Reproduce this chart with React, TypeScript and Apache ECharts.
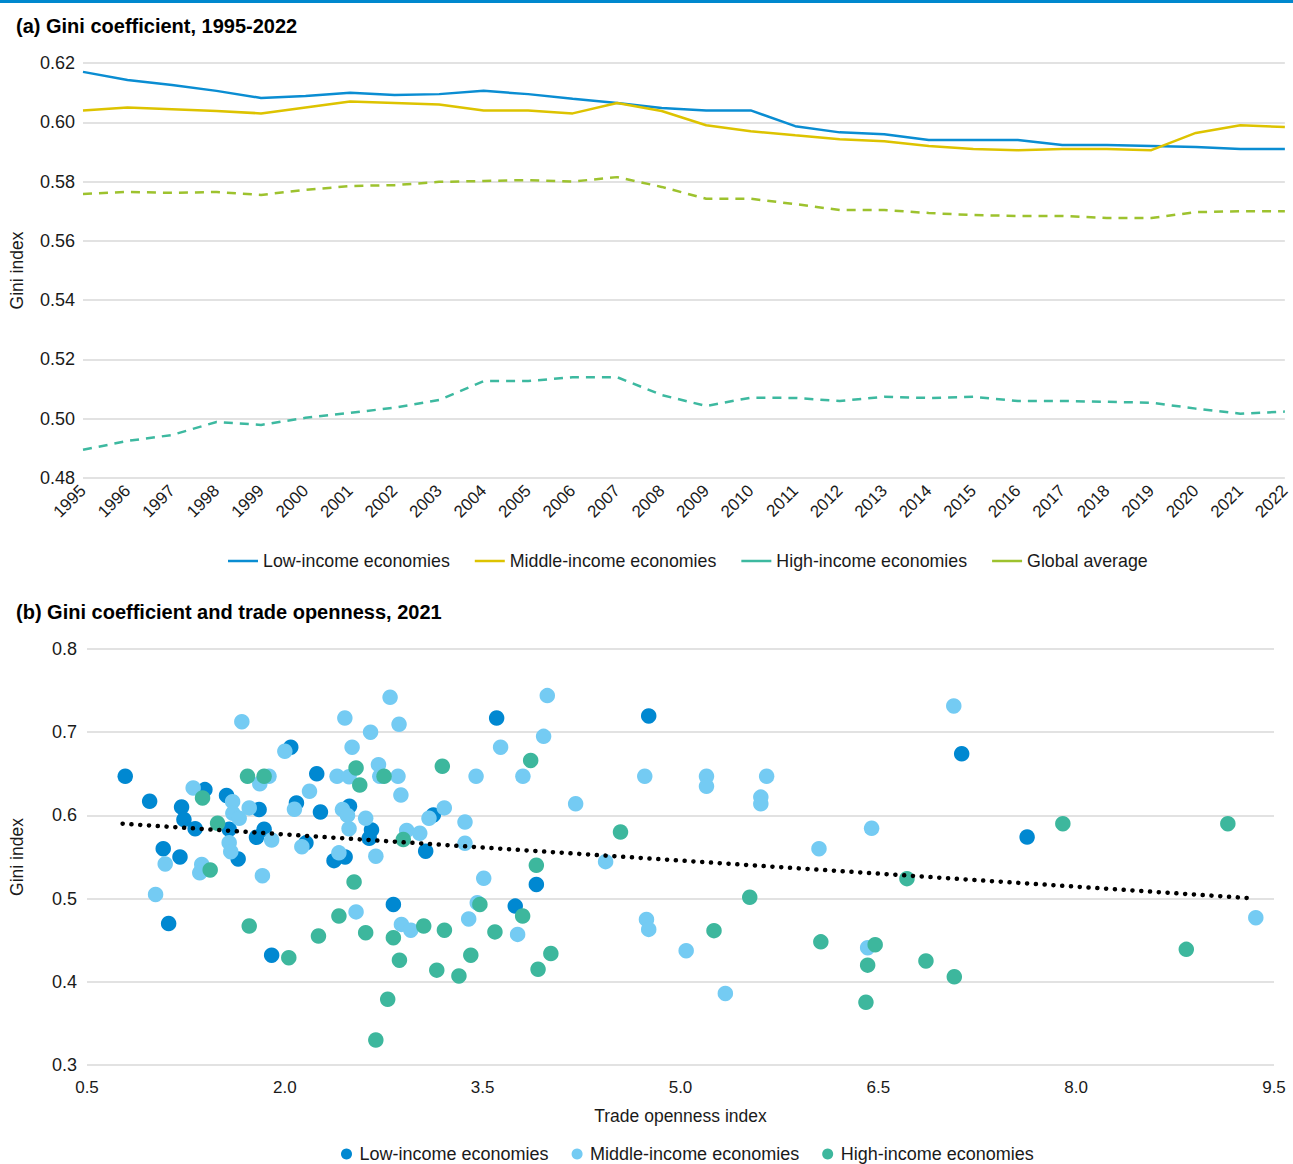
import React, { useEffect, useRef } from "react";
import * as echarts from "echarts";

const years = ["1995","1996","1997","1998","1999","2000","2001","2002","2003","2004","2005","2006","2007","2008","2009","2010","2011","2012","2013","2014","2015","2016","2017","2018","2019","2020","2021","2022"];
const lowIncome = [0.617,0.6143,0.6126,0.6106,0.6082,0.6089,0.61,0.6092,0.6095,0.6106,0.6095,0.6079,0.6065,0.6048,0.604,0.604,0.5987,0.5966,0.596,0.594,0.594,0.594,0.5923,0.5923,0.592,0.5917,0.591,0.591];
const middleIncome = [0.604,0.605,0.6044,0.6038,0.603,0.605,0.607,0.6065,0.606,0.604,0.604,0.603,0.6065,0.6038,0.599,0.597,0.5956,0.5943,0.5936,0.592,0.591,0.5906,0.591,0.591,0.5906,0.5964,0.599,0.5984];
const highIncome = [0.4895,0.4925,0.4945,0.4989,0.4979,0.5003,0.502,0.5037,0.5063,0.5127,0.5127,0.514,0.514,0.508,0.5043,0.5071,0.507,0.506,0.5074,0.507,0.5074,0.506,0.506,0.5057,0.5054,0.5034,0.5017,0.5024];
const globalAvg = [0.5758,0.5765,0.5762,0.5765,0.5755,0.5772,0.5785,0.5788,0.5799,0.5802,0.5805,0.58,0.5815,0.5782,0.5742,0.5742,0.5724,0.5704,0.5704,0.5694,0.5687,0.5684,0.5684,0.5677,0.5677,0.5697,0.57,0.57];

const lowX = [0.79,0.975,1.217,1.235,1.32,1.394,2.045,1.558,1.805,2.088,2.242,2.27,2.49,2.657,2.64,1.578,1.646,1.843,1.785,1.078,1.205,2.16,2.373,2.457,1.119,1.9,3.606,3.126,3.068,3.907,2.823,3.747,4.759,7.132,7.628];
const lowY = [0.647,0.617,0.61,0.595,0.584,0.631,0.682,0.624,0.607,0.615,0.65,0.604,0.611,0.5825,0.5725,0.5833,0.5476,0.5833,0.5737,0.56,0.55,0.567,0.5456,0.55,0.47,0.432,0.717,0.6005,0.557,0.517,0.493,0.491,0.7195,0.674,0.574];

const midX = [1.674,2.455,2.65,2.0,2.51,1.305,1.81,1.88,1.604,1.606,1.654,1.73,2.073,2.187,2.396,2.487,2.437,2.475,2.487,2.613,1.578,1.59,1.9,1.093,1.37,1.355,2.129,2.41,2.69,1.83,1.02,2.54,2.798,2.866,3.99,3.962,3.636,3.45,3.805,2.71,2.72,2.858,2.88,2.924,3.023,3.093,3.209,3.366,3.366,4.205,4.432,3.508,2.884,2.955,3.394,3.459,3.765,4.729,7.072,5.197,5.197,5.653,5.609,5.609,6.449,6.05,4.742,4.759,5.043,6.419,5.34,9.362];
const midY = [0.7126,0.717,0.70,0.677,0.682,0.633,0.638,0.647,0.6165,0.6025,0.5965,0.609,0.6073,0.629,0.647,0.6465,0.607,0.60,0.584,0.5965,0.5672,0.5564,0.5704,0.5416,0.541,0.531,0.5624,0.555,0.551,0.5275,0.505,0.484,0.742,0.7095,0.744,0.695,0.682,0.647,0.647,0.661,0.647,0.647,0.6245,0.582,0.5785,0.5965,0.609,0.592,0.5665,0.614,0.5444,0.5244,0.469,0.462,0.4755,0.495,0.457,0.647,0.7315,0.647,0.635,0.647,0.622,0.614,0.5845,0.56,0.475,0.463,0.4374,0.441,0.386,0.477];

const highX = [1.376,1.717,1.843,2.54,2.568,1.49,1.434,2.525,1.73,2.03,2.255,2.41,2.613,2.69,3.194,3.864,2.752,2.898,4.545,3.907,2.823,3.053,3.21,3.479,3.803,3.593,2.869,3.152,3.32,3.41,3.92,4.017,2.78,7.899,9.15,6.717,5.525,5.254,6.064,6.476,6.419,6.861,7.076,6.406,8.835];
const highY = [0.621,0.647,0.647,0.657,0.6365,0.5905,0.5344,0.52,0.467,0.429,0.455,0.479,0.459,0.33,0.659,0.666,0.647,0.571,0.58,0.54,0.453,0.467,0.462,0.493,0.479,0.46,0.426,0.414,0.407,0.432,0.415,0.434,0.379,0.59,0.59,0.524,0.5016,0.4615,0.448,0.4446,0.42,0.425,0.406,0.3754,0.439];

const trendX = [0.77, 9.3];
const trendY = [0.59, 0.5007];

const FONT = "'Liberation Sans', Arial, Helvetica, sans-serif";
const TXT = "#1a1a1a";
const GRID = "#d9d9d9";

const zip = (xs: number[], ys: number[]) => xs.map((x, i) => [x, ys[i]]);

export default function App() {
  const topRef = useRef<HTMLDivElement>(null);
  const botRef = useRef<HTMLDivElement>(null);

  useEffect(() => {
    const top = echarts.init(topRef.current!, null, { renderer: "svg" });
    const bot = echarts.init(botRef.current!, null, { renderer: "svg" });

    const lineSeries = (name: string, data: number[], color: string, dashed: boolean) => ({
      name,
      type: "line",
      data,
      symbol: "none",
      lineStyle: { color, width: 2.5, type: dashed ? [9, 7] : "solid" },
      itemStyle: { color },
    });

    top.setOption({
      animation: false,
      textStyle: { fontFamily: FONT },
      graphic: [
        { type: "rect", left: 0, top: 0, shape: { width: 1293, height: 3 }, style: { fill: "#0088CE" } },
      ],
      title: {
        text: "(a) Gini coefficient, 1995-2022",
        left: 16,
        top: 16,
        padding: 0,
        textStyle: { fontFamily: FONT, fontSize: 20, fontWeight: "bold", color: "#000" },
      },
      legend: {
        left: 228,
        top: 552,
        itemWidth: 30,
        itemHeight: 14,
        itemGap: 25,
        padding: 0,
        icon: "path://M0,6 L30,6 L30,8.5 L0,8.5 Z",
        textStyle: { fontFamily: FONT, fontSize: 17.8, color: TXT },
        data: ["Low-income economies", "Middle-income economies", "High-income economies", "Global average"],
      },
      grid: { left: 82, right: 8, top: 63, bottom: 112 },
      xAxis: {
        type: "category",
        data: years,
        boundaryGap: false,
        axisLine: { show: false },
        axisTick: { show: false },
        axisLabel: { rotate: 45, interval: 0, margin: 10, fontSize: 17, color: TXT, fontFamily: FONT },
      },
      yAxis: {
        type: "value",
        min: 0.48,
        max: 0.62,
        interval: 0.02,
        name: "Gini index",
        nameLocation: "middle",
        nameGap: 57,
        nameTextStyle: { fontSize: 17.5, color: TXT, fontFamily: FONT },
        axisLine: { show: false },
        axisTick: { show: false },
        axisLabel: { fontSize: 18, color: TXT, margin: 8, fontFamily: FONT, formatter: (v: number) => v.toFixed(2) },
        splitLine: { lineStyle: { color: GRID, width: 1.5 } },
      },
      series: [
        lineSeries("Low-income economies", lowIncome, "#0A8DD2", false),
        lineSeries("Middle-income economies", middleIncome, "#DDC300", false),
        lineSeries("High-income economies", highIncome, "#3DB9A0", true),
        lineSeries("Global average", globalAvg, "#9DC22E", true),
      ],
    });

    const scatter = (name: string, xs: number[], ys: number[], color: string) => ({
      name,
      type: "scatter",
      data: zip(xs, ys),
      symbol: "circle",
      symbolSize: 15.5,
      itemStyle: { color, opacity: 1 },
    });

    bot.setOption({
      animation: false,
      textStyle: { fontFamily: FONT },
      title: {
        text: "(b) Gini coefficient and trade openness, 2021",
        left: 16,
        top: 12,
        padding: 0,
        textStyle: { fontFamily: FONT, fontSize: 20, fontWeight: "bold", color: "#000" },
      },
      legend: {
        left: 341,
        top: 555,
        itemWidth: 16,
        itemHeight: 11,
        itemGap: 23,
        padding: 0,
        icon: "circle",
        textStyle: { fontFamily: FONT, fontSize: 18, color: TXT },
        data: ["Low-income economies", "Middle-income economies", "High-income economies"],
      },
      grid: { left: 86, right: 19, top: 59, bottom: 99 },
      xAxis: {
        type: "value",
        min: 0.5,
        max: 9.5,
        interval: 1.5,
        name: "Trade openness index",
        nameLocation: "middle",
        nameGap: 42,
        nameTextStyle: { fontSize: 17.5, color: TXT, fontFamily: FONT },
        axisLine: { show: false },
        axisTick: { show: false },
        splitLine: { show: false },
        axisLabel: { fontSize: 17, color: TXT, margin: 14, fontFamily: FONT, formatter: (v: number) => v.toFixed(1) },
      },
      yAxis: {
        type: "value",
        min: 0.3,
        max: 0.8,
        interval: 0.1,
        name: "Gini index",
        nameLocation: "middle",
        nameGap: 61,
        nameTextStyle: { fontSize: 17.5, color: TXT, fontFamily: FONT },
        axisLine: { show: false },
        axisTick: { show: false },
        axisLabel: { fontSize: 18, color: TXT, margin: 10, fontFamily: FONT, formatter: (v: number) => v.toFixed(1) },
        splitLine: { lineStyle: { color: GRID, width: 1.5 } },
      },
      series: [
        scatter("Low-income economies", lowX, lowY, "#0088D1"),
        scatter("Middle-income economies", midX, midY, "#74CBF3"),
        scatter("High-income economies", highX, highY, "#3DB79D"),
        {
          name: "Trend",
          type: "line",
          data: zip(trendX, trendY),
          symbol: "none",
          z: 5,
          lineStyle: { color: "#000", width: 4.5, type: [0.1, 8.7], cap: "round" },
        },
      ],
    });

    return () => {
      top.dispose();
      bot.dispose();
    };
  }, []);

  return (
    <div style={{ position: "fixed", left: 0, top: 0, width: 1293, height: 1164, background: "#fff" }}>
      <div ref={topRef} style={{ position: "absolute", left: 0, top: 0, width: 1293, height: 590 }} />
      <div ref={botRef} style={{ position: "absolute", left: 0, top: 590, width: 1293, height: 574 }} />
    </div>
  );
}
